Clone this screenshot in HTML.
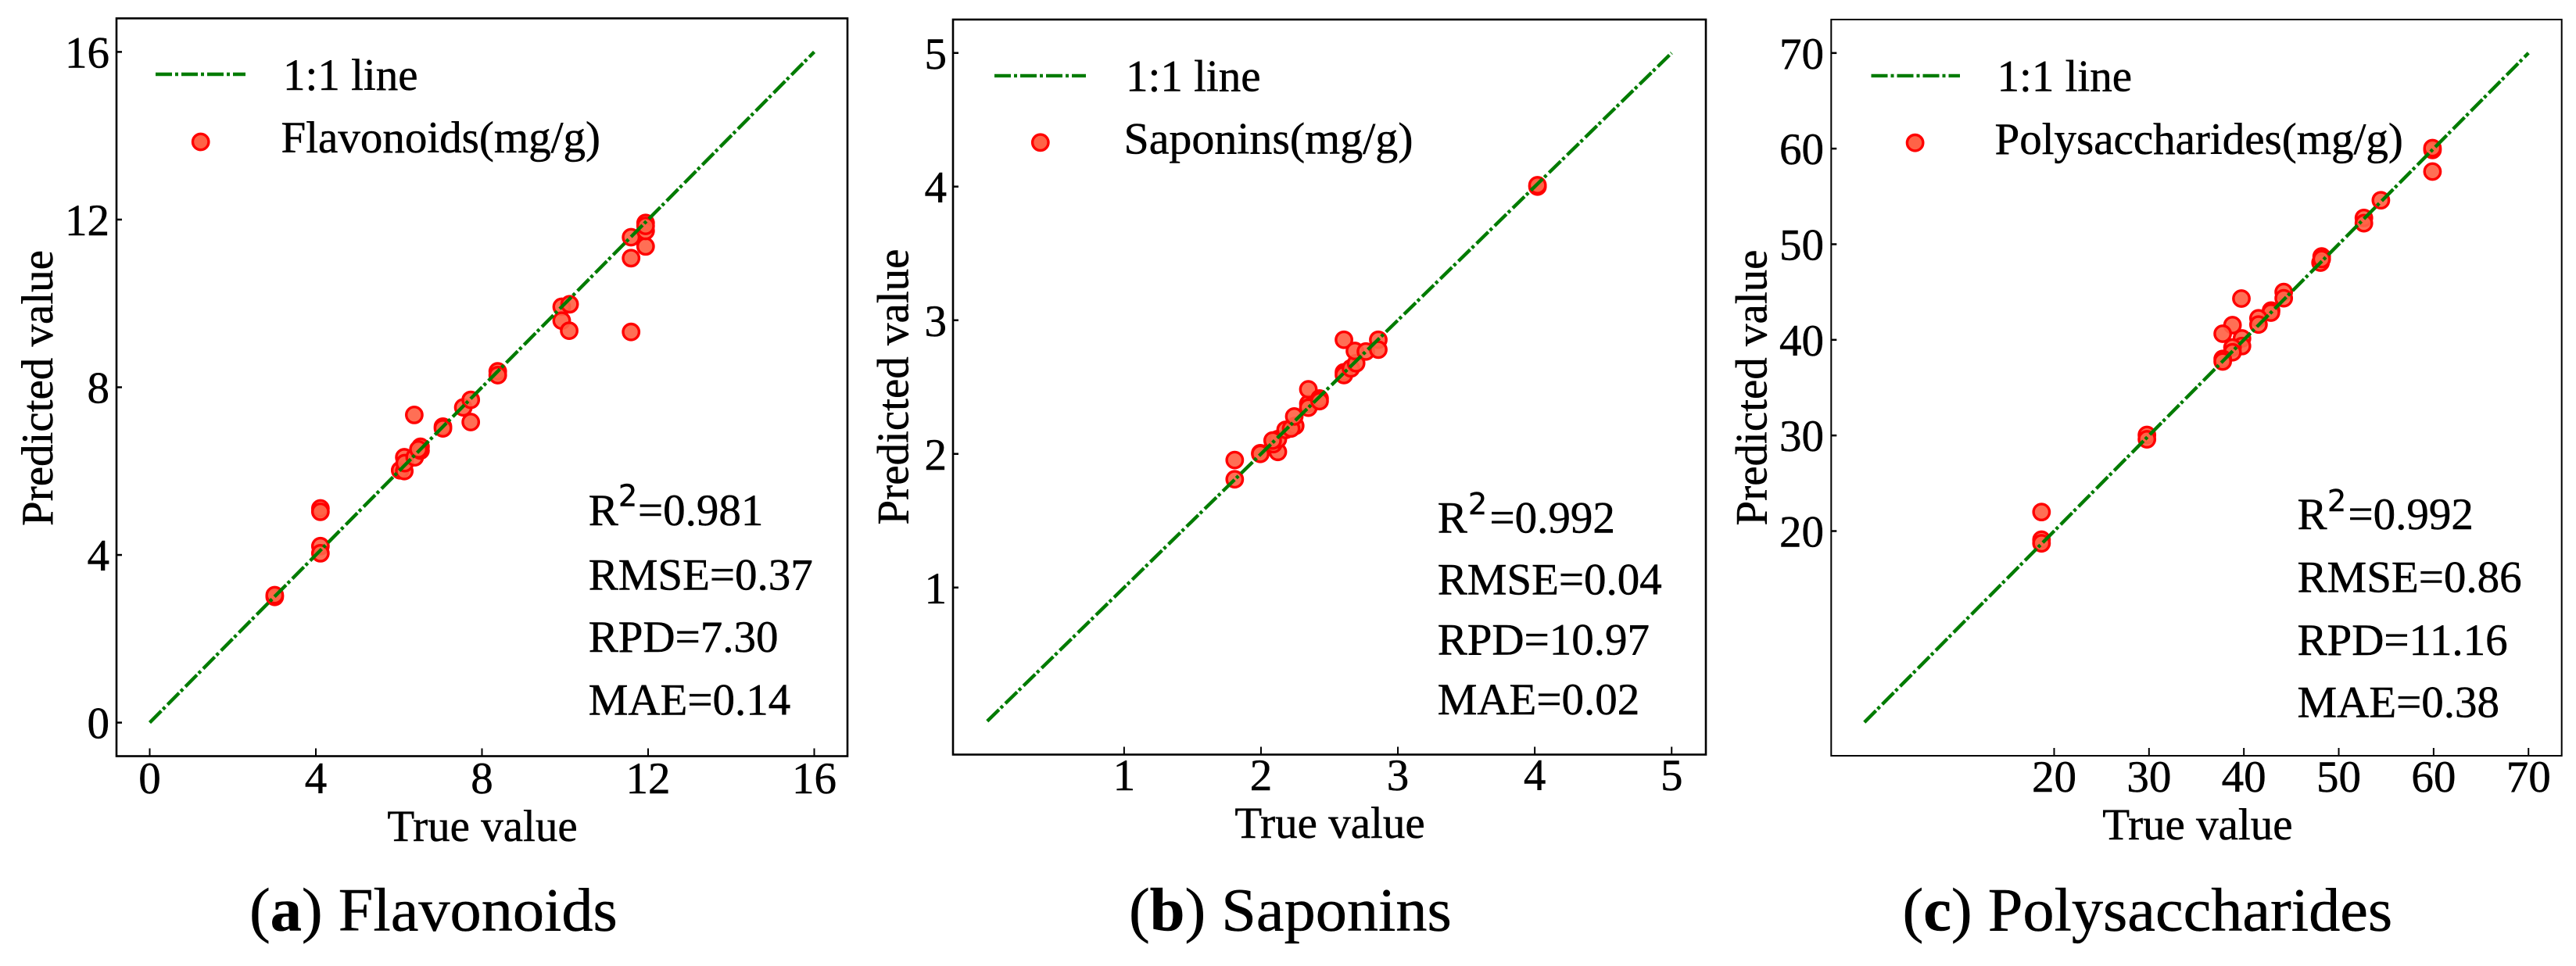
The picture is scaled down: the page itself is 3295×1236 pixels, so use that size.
<!DOCTYPE html>
<html lang="en">
<head>
<meta charset="utf-8">
<title>True vs predicted value scatter plots</title>
<style>
html,body{margin:0;padding:0;background:#fff;}
svg{display:block;}
text{font-family:"Liberation Serif",serif;font-size:57px;fill:#000;stroke:#000;stroke-width:.5px;}
.sup{font-family:"DejaVu Sans",sans-serif;font-size:38px;}
.cap{font-size:78px;}
</style>
</head>
<body>
<svg id="figure" xmlns="http://www.w3.org/2000/svg" width="3295" height="1236" viewBox="0 0 3295 1236">
<rect x="0" y="0" width="3295" height="1236" fill="#fff"/>

<g id="panel-a">
<text x="362" y="115">1:1 line</text>
<text x="359.5" y="195">Flavonoids(mg/g)</text>
<text x="617" y="1076" text-anchor="middle">True value</text>
<text transform="translate(67 496.5) rotate(-90)" text-anchor="middle">Predicted value</text>
<g>
<text x="752.7" y="672">R</text>
<text class="sup" x="791" y="647.5">2</text>
<text x="816" y="672">=0.981</text>
<text x="752.7" y="754.4">RMSE=0.37</text>
<text x="752.7" y="834">RPD=7.30</text>
<text x="752.7" y="914.7">MAE=0.14</text>
</g>
<text class="cap" transform="translate(319 1190.5) scale(1.03 1)">(<tspan font-weight="bold">a</tspan>) Flavonoids</text>
</g>

<g id="panel-b">
<text x="1440" y="116.6">1:1 line</text>
<text x="1437.5" y="196.5" textLength="370" lengthAdjust="spacingAndGlyphs">Saponins(mg/g)</text>
<text x="1701" y="1072" text-anchor="middle">True value</text>
<text transform="translate(1161.7 495) rotate(-90)" text-anchor="middle">Predicted value</text>
<g>
<text x="1838.7" y="681.7">R</text>
<text class="sup" x="1878" y="658">2</text>
<text x="1905.5" y="681.7">=0.992</text>
<text x="1838.7" y="760.3">RMSE=0.04</text>
<text x="1838.7" y="837.3">RPD=10.97</text>
<text x="1838.7" y="913.9">MAE=0.02</text>
</g>
<text class="cap" transform="translate(1444 1190.5) scale(1.03 1)">(<tspan font-weight="bold">b</tspan>) Saponins</text>
</g>

<g id="panel-c">
<text x="2554.5" y="116.6">1:1 line</text>
<text x="2551.5" y="197">Polysaccharides(mg/g)</text>
<text x="2810.9" y="1074" text-anchor="middle">True value</text>
<text transform="translate(2259.5 496) rotate(-90)" text-anchor="middle">Predicted value</text>
<g>
<text x="2938.5" y="677">R</text>
<text class="sup" x="2977" y="654">2</text>
<text x="3003.5" y="677">=0.992</text>
<text x="2938.5" y="757.5">RMSE=0.86</text>
<text x="2938.5" y="838">RPD=11.16</text>
<text x="2938.5" y="917.4">MAE=0.38</text>
</g>
<text class="cap" transform="translate(2433.5 1190.5) scale(1.03 1)">(<tspan font-weight="bold">c</tspan>) Polysaccharides</text>
</g>
</svg>

<script>
// ---- Chart data ----
const flavonoidsTrue = [3.01,3.01,4.11,4.11,4.11,4.11,6.03,6.13,6.13,6.14,6.38,6.52,6.52,6.47,6.37,7.06,7.06,7.55,7.73,7.73,8.38,8.38,9.92,10.11,9.92,10.10,11.59,11.59,11.59,11.94,11.94,11.94,11.94];
const flavonoidsPred = [3.00,3.04,5.11,5.03,4.21,4.04,6.02,6.00,6.33,6.19,6.33,6.58,6.49,6.52,7.34,7.06,7.02,7.52,7.70,7.17,8.38,8.29,9.92,9.98,9.59,9.35,11.08,9.32,11.58,11.36,11.92,11.73,11.85];
const flavonoidsTicks = [0,4,8,12,16];
const flavonoidsXDomain = [-0.8,16.8];
const flavonoidsYDomain = [-0.8,16.8];
const flavonoidsLine = [0,16];

const saponinsTrue = [1.808,1.808,1.995,1.995,2.123,2.09,2.123,2.085,2.18,2.25,2.22,2.243,2.346,2.346,2.346,2.428,2.428,2.606,2.606,2.657,2.695,2.606,2.686,2.766,2.857,2.857,4.02,4.02];
const saponinsPred = [1.81,1.954,2.005,2.0,2.015,2.073,2.11,2.10,2.18,2.21,2.19,2.28,2.375,2.346,2.483,2.414,2.395,2.61,2.59,2.64,2.678,2.854,2.77,2.766,2.854,2.78,4.0,4.01];
const saponinsXTicks = [1,2,3,4,5];
const saponinsYTicks = [1,2,3,4,5];
const saponinsXDomain = [-0.25,5.25];
const saponinsYDomain = [-0.25,5.25];
const saponinsLine = [0,5];

const polysaccharidesTrue = [59.88,59.88,59.88,54.44,52.65,52.65,48.2,48.08,48.2,44.2,44.2,39.74,42.87,42.85,41.54,41.54,38.8,37.77,39.8,39.8,38.8,38.8,37.77,37.77,29.78,29.78,18.67,18.67,18.67];
const polysaccharidesPred = [59.86,60.05,57.6,54.6,52.75,52.2,48.72,48.08,48.45,45.0,44.35,44.32,43.06,42.85,42.25,41.6,41.54,40.64,40.15,39.35,39.2,38.7,38.0,37.74,30.05,29.6,21.99,19.1,18.72];
const polysaccharidesXTicks = [20,30,40,50,60,70];
const polysaccharidesYTicks = [20,30,40,50,60,70];
const polysaccharidesXDomain = [-3.5,73.5];
const polysaccharidesYDomain = [-3.5,73.5];
const polysaccharidesLine = [0,70];

// ---- Rendering ----
const NS = 'http://www.w3.org/2000/svg';
const DASH = '21 3 4 4.4';
const GREEN = '#007b00';

function make(tag, parent) {
  const el = document.createElementNS(NS, tag);
  parent.appendChild(el);
  return el;
}
function scale(domain, a, b) {
  return function (v) { return a + (v - domain[0]) / (domain[1] - domain[0]) * (b - a); };
}

function drawPanel(cfg) {
  const root = document.getElementById(cfg.id);
  const xs = scale(cfg.xDomain, cfg.left, cfg.right);
  const ys = scale(cfg.yDomain, cfg.bottom, cfg.top);

  // points
  const pts = make('g', root);
  
  
  cfg.trueVals.forEach(function (t, i) {
    const c = make('circle', pts);
    
    
    c.setAttribute('cx', xs(t));
    c.setAttribute('cy', ys(cfg.predVals[i]));
    c.setAttribute('r', 10.2);
    c.setAttribute('fill', '#ff6347');
    c.setAttribute('fill-opacity', '0.92');
    c.setAttribute('stroke', '#ff0000');
    c.setAttribute('stroke-width', 3.4);
  });

  // 1:1 line
  const ln = make('line', root);
  
  
  ln.setAttribute('x1', xs(cfg.line[0]));
  ln.setAttribute('y1', ys(cfg.line[0]));
  ln.setAttribute('x2', xs(cfg.line[1]));
  ln.setAttribute('y2', ys(cfg.line[1]));
  ln.setAttribute('stroke', GREEN);
  ln.setAttribute('stroke-width', 4.4);
  ln.setAttribute('stroke-dasharray', DASH);

  // frame
  const fr = make('rect', root);
  
  
  fr.setAttribute('x', cfg.left);
  fr.setAttribute('y', cfg.top);
  fr.setAttribute('width', cfg.right - cfg.left);
  fr.setAttribute('height', cfg.bottom - cfg.top);
  fr.setAttribute('fill', 'none');
  fr.setAttribute('stroke', '#000');
  fr.setAttribute('stroke-width', cfg.frameWidth);

  // x ticks
  cfg.xTicks.forEach(function (v) {
    const t = make('line', root);
    
    
    t.setAttribute('x1', xs(v));
    t.setAttribute('x2', xs(v));
    t.setAttribute('y1', cfg.bottom);
    t.setAttribute('y2', cfg.bottom - 10);
    t.setAttribute('stroke', '#000');
    t.setAttribute('stroke-width', 2);
    const l = make('text', root);
    
    
    l.setAttribute('x', xs(v));
    l.setAttribute('y', cfg.xLabelBaseline);
    l.setAttribute('text-anchor', 'middle');
    l.textContent = String(v);
  });

  // y ticks
  cfg.yTicks.forEach(function (v) {
    const t = make('line', root);
    
    
    t.setAttribute('x1', cfg.left);
    t.setAttribute('x2', cfg.left + 7);
    t.setAttribute('y1', ys(v));
    t.setAttribute('y2', ys(v));
    t.setAttribute('stroke', '#000');
    t.setAttribute('stroke-width', 2.5);
    const l = make('text', root);
    
    
    l.setAttribute('x', cfg.yLabelRight);
    l.setAttribute('y', ys(v) + 20);
    l.setAttribute('text-anchor', 'end');
    l.textContent = String(v);
  });

  // legend glyphs
  const ll = make('line', root);
  
  
  ll.setAttribute('x1', cfg.legendLine[0]);
  ll.setAttribute('x2', cfg.legendLine[1]);
  ll.setAttribute('y1', cfg.legendLine[2]);
  ll.setAttribute('y2', cfg.legendLine[2]);
  ll.setAttribute('stroke', GREEN);
  ll.setAttribute('stroke-width', 4.4);
  ll.setAttribute('stroke-dasharray', '21 4 4 4');

  const lm = make('circle', root);
  
  
  lm.setAttribute('cx', cfg.legendMarker[0]);
  lm.setAttribute('cy', cfg.legendMarker[1]);
  lm.setAttribute('r', 10.2);
  lm.setAttribute('fill', '#ff6347');
  lm.setAttribute('stroke', '#ff0000');
  lm.setAttribute('stroke-width', 3.4);
}

drawPanel({
  id: 'panel-a', left: 149, right: 1084, top: 23.5, bottom: 967.5, frameWidth: 2.6,
  xDomain: flavonoidsXDomain, yDomain: flavonoidsYDomain,
  trueVals: flavonoidsTrue, predVals: flavonoidsPred, line: flavonoidsLine,
  xTicks: flavonoidsTicks, yTicks: flavonoidsTicks,
  xLabelBaseline: 1015, yLabelRight: 140,
  legendLine: [199, 314, 95], legendMarker: [256.7, 181.5]
});
drawPanel({
  id: 'panel-b', left: 1219, right: 2182, top: 25, bottom: 965.5, frameWidth: 2.6,
  xDomain: saponinsXDomain, yDomain: saponinsYDomain,
  trueVals: saponinsTrue, predVals: saponinsPred, line: saponinsLine,
  xTicks: saponinsXTicks, yTicks: saponinsYTicks,
  xLabelBaseline: 1011, yLabelRight: 1211,
  legendLine: [1272, 1389, 96.9], legendMarker: [1330.8, 182.3]
});
drawPanel({
  id: 'panel-c', left: 2342.3, right: 3276.7, top: 25, bottom: 967, frameWidth: 2,
  xDomain: polysaccharidesXDomain, yDomain: polysaccharidesYDomain,
  trueVals: polysaccharidesTrue, predVals: polysaccharidesPred, line: polysaccharidesLine,
  xTicks: polysaccharidesXTicks, yTicks: polysaccharidesYTicks,
  xLabelBaseline: 1013, yLabelRight: 2333,
  legendLine: [2393.5, 2507, 96.9], legendMarker: [2449.6, 182.7]
});
</script>
</body>
</html>
